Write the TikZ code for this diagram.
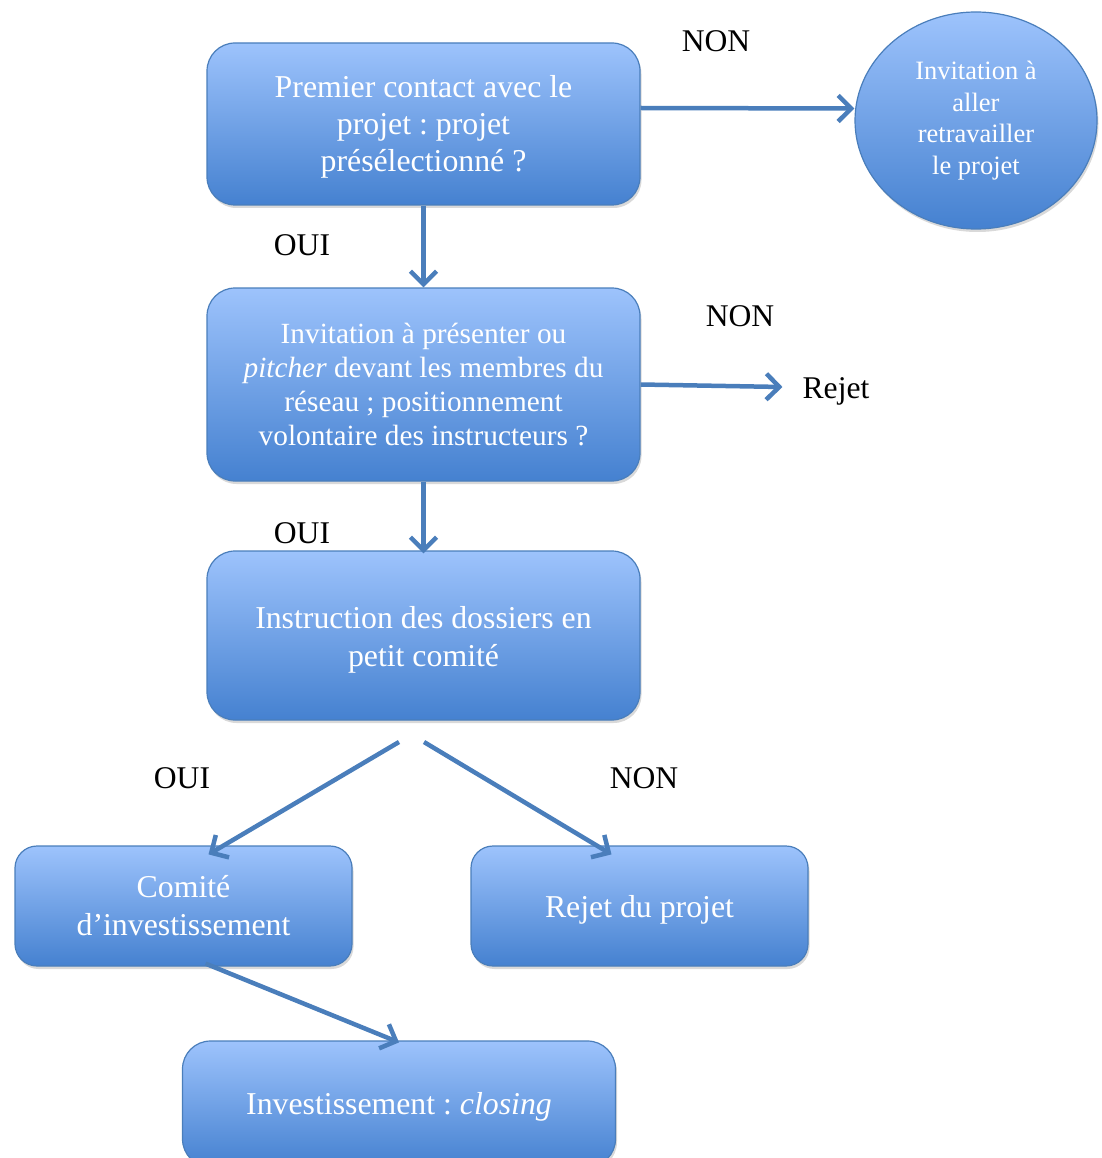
\documentclass[tikz,border=0pt]{standalone}
\usepackage{fontspec}
\setmainfont{Liberation Serif}
\usetikzlibrary{arrows.meta,shapes.geometric,shadows}
\definecolor{boxtop}{HTML}{9DC3FC}
\definecolor{boxbot}{HTML}{4581D0}
\definecolor{edgeblue}{HTML}{4A7EBB}
\definecolor{arrblue}{HTML}{4A7EBB}
\frenchspacing
\begin{document}
\begin{tikzpicture}[x=1pt,y=-1pt,
  box/.style={rectangle, rounded corners=28pt, draw=edgeblue, line width=1.2pt,
    top color=boxtop, bottom color=boxbot, text=white, align=center, inner sep=0pt,
    drop shadow={shadow xshift=1.5pt, shadow yshift=-3pt, opacity=0.3}},
  bubble/.style={ellipse, draw=edgeblue, line width=1.2pt,
    top color=boxtop, bottom color=boxbot, text=white, align=center, inner sep=0pt,
    drop shadow={shadow xshift=1.5pt, shadow yshift=-3pt, opacity=0.3}},
  txt/.style={text=white, align=center, inner sep=0pt, font=\fontsize{31.8}{38}\selectfont},
  lbl/.style={text=black, inner sep=0pt, font=\fontsize{31.6}{36}\selectfont},
  flow/.style={draw=arrblue, line width=4.5pt,
    -{Straight Barb[length=13pt, width=26pt]}}
]
\useasboundingbox (0,0) rectangle (1101,1158);
\clip (0,0) rectangle (1101,1158);

\node[box, minimum width=433pt, minimum height=162pt,
  label={[txt, font=\fontsize{31.8}{37}\selectfont, yshift=-3pt]center:Premier contact avec le\\projet : projet\\présélectionné ?}]
  (b1) at (423.5,124) {};
\node[bubble, minimum width=242pt, minimum height=217pt,
  font=\fontsize{26.5}{31.5}\selectfont] (circ) at (976,120.5)
  {Invitation à\\aller\\retravailler\\le projet};
\node[box, minimum width=433pt, minimum height=193pt,
  font=\fontsize{29.3}{34.3}\selectfont] (b2) at (423.5,384.5)
  {Invitation à présenter ou\\\textit{pitcher} devant les membres du\\réseau ; positionnement\\volontaire des instructeurs ?};
\node[box, minimum width=433pt, minimum height=169pt,
  label={[txt, yshift=-4pt]center:Instruction des dossiers en\\petit comité}]
  (b3) at (423.5,635.5) {};
\node[box, minimum width=337pt, minimum height=120pt, rounded corners=22pt,
  font=\fontsize{31.8}{38}\selectfont] (b4) at (183.5,906)
  {Comité\\d’investissement};
\node[box, minimum width=337pt, minimum height=120pt, rounded corners=22pt,
  label={[txt, yshift=-4pt]center:Rejet du projet}] (b5) at (639.5,906) {};
\node[box, minimum width=433pt, minimum height=126pt,
  label={[txt, yshift=-3pt]center:Investissement : \textit{closing}}]
  (b6) at (399,1104) {};

\node[lbl] (non1) at (716,41) {NON};
\node[lbl] (oui1) at (302,245) {OUI};
\node[lbl] (non2) at (740,316) {NON};
\node[lbl] (rejet) at (836,391) {Rejet};
\node[lbl] (oui2) at (302,533) {OUI};
\node[lbl] (oui3) at (182,778) {OUI};
\node[lbl] (non3) at (644,778) {NON};

\coordinate (s1) at (399,742);
\coordinate (s2) at (424,742);

\draw[flow] ([yshift=16pt]b1.east) -- ([yshift=12pt]circ.west);
\draw[flow] (b1.south) -- (b2.north);
\draw[flow] (b2.east) -- ([xshift=-20pt,yshift=4pt]rejet.west);
\draw[flow] (b2.south) -- ([yshift=-3pt]b3.north);
\draw[flow] (s1) -- ([xshift=25pt,yshift=-9pt]b4.north);
\draw[flow] (s2) -- ([xshift=-28pt,yshift=-9pt]b5.north);
\draw[flow] ([xshift=22pt,yshift=3pt]b4.south) -- ([yshift=-2pt]b6.north);
\end{tikzpicture}
\end{document}
